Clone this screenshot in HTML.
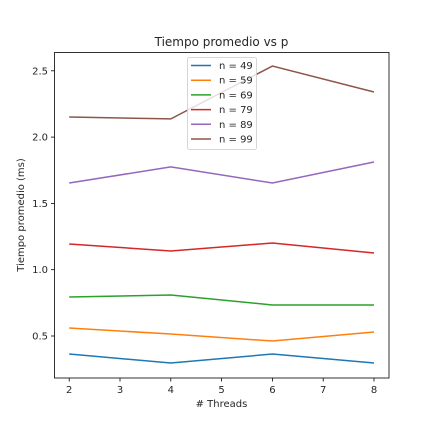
<!DOCTYPE html>
<html><head><meta charset="utf-8"><style>
body{margin:0;background:#fff}
svg text{font-family:"DejaVu Sans","Liberation Sans",sans-serif;fill:#262626}
</style></head><body>
<svg id="c" width="432" height="432" viewBox="0 0 432 432">
<rect width="432" height="432" fill="#fff"/>
<text x="221.5" y="46" font-size="12" text-anchor="middle">Tiempo promedio vs p</text>
<text x="221.5" y="407" font-size="10" text-anchor="middle"># Threads</text>
<text transform="translate(24,215) rotate(-90)" font-size="10" text-anchor="middle">Tiempo promedio (ms)</text>
<g id="ax"></g>
<rect x="54.5" y="52.5" width="334.5" height="325.5" fill="none" stroke="#000" stroke-width="0.8"/>
<g id="leg"></g>
</svg>
<script>
const threads=[2,4,6,8];
const labels=["n = 49","n = 59","n = 69","n = 79","n = 89","n = 99"];
const colors=["#1f77b4","#ff7f0e","#2ca02c","#d62728","#9467bd","#8c564b"];
const s49=[0.364,0.296,0.364,0.296];
const s59=[0.56,0.515,0.462,0.53];
const s69=[0.794,0.809,0.734,0.734];
const s79=[1.194,1.141,1.201,1.126];
const s89=[1.654,1.775,1.654,1.812];
const s99=[2.152,2.137,2.536,2.34];
const series=[s49,s59,s69,s79,s89,s99];
const xTicks=[2,3,4,5,6,7,8];
const yTicks=[0.5,1.0,1.5,2.0,2.5];
const NS="http://www.w3.org/2000/svg";
function X(v){return 69.2+(v-2)*(374-69.2)/6;}
function Y(v){return 336-(v-0.5)*132.6;}
const ax=document.getElementById('ax');
function mk(t,a,p){const e=document.createElementNS(NS,t);for(const k in a)e.setAttribute(k,a[k]);(p||ax).appendChild(e);return e;}
xTicks.forEach(v=>{
 const l=mk('line',{x1:X(v),x2:X(v),y1:378,y2:381.5,stroke:'#000','stroke-width':0.8});
 
 
 const t=mk('text',{x:X(v),y:393,'font-size':10,'text-anchor':'middle'});t.textContent=v;
 
 
});
yTicks.forEach(v=>{
 const l=mk('line',{x1:51,x2:54.5,y1:Y(v),y2:Y(v),stroke:'#000','stroke-width':0.8});
 
 
 const t=mk('text',{x:48,y:Y(v)+3.5,'font-size':10,'text-anchor':'end'});t.textContent=v.toFixed(1);
 
 
});
series.forEach((s,i)=>{
 const p=mk('polyline',{points:s.map((v,j)=>X(threads[j])+','+Y(v)).join(' '),fill:'none',stroke:colors[i],'stroke-width':1.5});
 
 
});
const leg=document.getElementById('leg');
const lb=mk('rect',{x:187.5,y:57.5,width:69,height:92,rx:2,fill:'#fff','fill-opacity':0.8,stroke:'#ccc','stroke-width':0.8},leg);


labels.forEach((lab,i)=>{
 const y=65.5+i*14.7;
 const l=mk('line',{x1:191,x2:211,y1:y,y2:y,stroke:colors[i],'stroke-width':1.5},leg);
 
 
 const t=mk('text',{x:219,y:y+3.5,'font-size':10},leg);t.textContent=lab;
 
 
});
</script>
</body></html>
